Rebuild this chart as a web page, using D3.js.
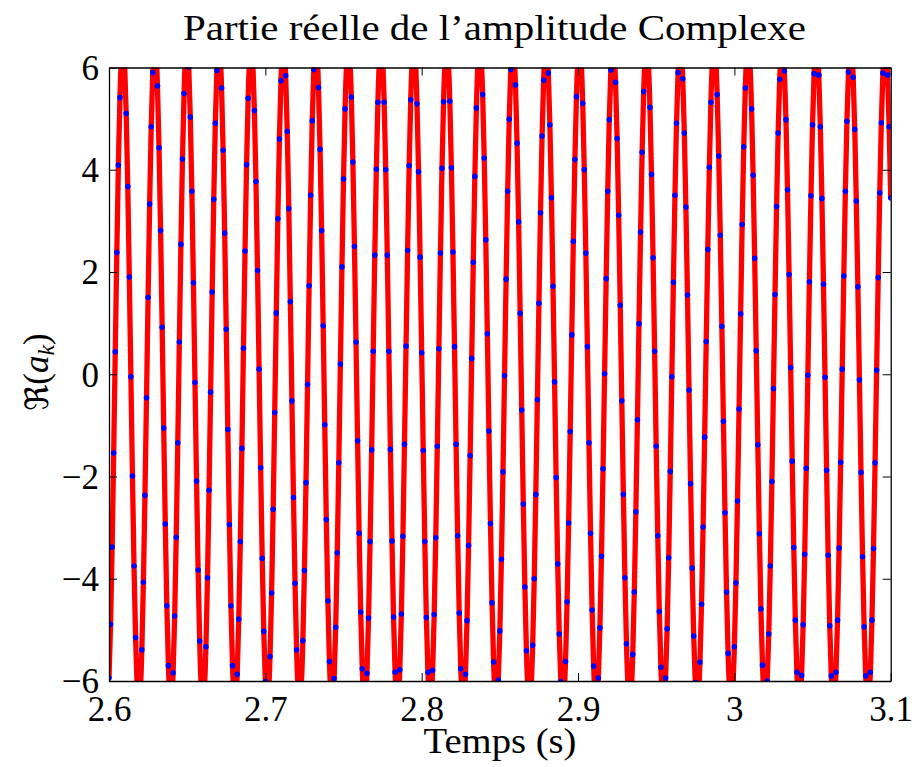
<!DOCTYPE html>
<html><head><meta charset="utf-8">
<script src="https://cdn.jsdelivr.net/npm/d3@7"></script>
<style>html,body{margin:0;padding:0;background:#fff}svg{display:block}
.serif{font-family:"Liberation Serif","Times New Roman",serif}</style>
</head><body>
<svg id="chart" width="915" height="767"></svg>
<script>
// ---- data ----
const sampleStart = 2.6;     // time of first sample (s)
const sampleStep = 0.001;    // sampling interval (s)
const realPart = [
-5.94,-4.89,-3.38,-1.54,0.44,2.38,4.09,5.41,6.23,
6.44,6.05,5.10,3.67,1.90,-0.05,-1.99,-3.75,-5.15,-6.08,-6.45,-6.21,-5.39,-4.07,-2.37,-0.46,1.50,3.33,4.84,5.90,6.41,
6.32,5.64,4.43,2.81,0.92,-1.05,-2.93,-4.53,-5.70,-6.35,-6.39,-5.84,-4.73,-3.19,-1.34,0.63,2.54,4.21,5.49,6.26,
6.44,6.01,5.03,3.58,1.79,-0.16,-2.09,-3.83,-5.22,-6.12,-6.45,-6.17,-5.33,-3.98,-2.27,-0.35,1.61,3.42,4.91,5.94,6.42,
6.30,5.60,4.38,2.76,0.88,-1.08,-2.94,-4.53,-5.70,-6.34,-6.40,-5.87,-4.79,-3.27,-1.45,0.51,2.41,4.10,5.40,6.21,
6.45,6.08,5.16,3.77,2.03,0.10,-1.83,-3.60,-5.03,-6.01,-6.43,-6.26,-5.52,-4.28,-2.64,-0.75,1.20,3.04,4.60,5.74,6.36,
6.38,5.84,4.75,3.24,1.42,-0.52,-2.41,-4.09,-5.39,-6.20,-6.45,-6.10,-5.21,-3.84,-2.12,-0.20,1.73,3.50,4.96,5.96,6.42,
6.30,5.61,4.40,2.81,0.95,-0.99,-2.84,-4.43,-5.62,-6.30,-6.42,-5.95,-4.95,-3.49,-1.73,0.20,2.10,3.82,5.19,6.09,6.45,
6.21,5.42,4.15,2.50,0.63,-1.30,-3.11,-4.65,-5.76,-6.36,-6.38,-5.85,-4.77,-3.27,-1.48,0.45,2.33,4.01,5.32,6.16,
6.45,6.15,5.32,4.00,2.33,0.45,-1.47,-3.26,-4.75,-5.83,-6.38,-6.37,-5.78,-4.69,-3.17,-1.37,0.55,2.42,4.08,5.37,6.18,
6.45,6.13,5.29,3.96,2.29,0.42,-1.49,-3.27,-4.76,-5.83,-6.38,-6.37,-5.79,-4.70,-3.20,-1.41,0.50,2.37,4.03,5.33,6.16,
6.45,6.16,5.34,4.04,2.39,0.54,-1.37,-3.16,-4.67,-5.76,-6.36,-6.39,-5.87,-4.82,-3.35,-1.59,0.31,2.19,3.87,5.21,6.09,6.45,
6.23,5.47,4.23,2.63,0.79,-1.11,-2.92,-4.47,-5.63,-6.30,-6.43,-5.98,-5.02,-3.62,-1.91,-0.03,1.86,3.58,4.99,5.96,6.42,
6.31,5.66,4.52,2.98,1.19,-0.70,-2.54,-4.16,-5.41,-6.20,-6.45,-6.14,-5.30,-4.00,-2.35,-0.50,1.39,3.16,4.66,5.75,6.35,
6.40,5.89,4.88,3.45,1.72,-0.15,-2.02,-3.71,-5.08,-6.01,-6.43,-6.29,-5.62,-4.45,-2.91,-1.12,0.77,2.60,4.20,5.43,6.21,
6.45,6.13,5.30,4.00,2.37,0.54,-1.34,-3.11,-4.61,-5.71,-6.33,-6.41,-5.94,-4.96,-3.56,-1.85,0.01,1.87,3.58,4.98,5.95,6.42,
6.33,5.71,4.61,3.11,1.35,-0.52,-2.35,-3.98,-5.27,-6.12,-6.45,-6.23,-5.48,-4.26,-2.69,-0.89,0.99,2.78,4.34,5.53,6.25,
6.44,6.09,5.22,3.91,2.28,0.45,-1.41,-3.16,-4.64,-5.73,-6.34,-6.41,-5.94,-4.98,-3.59,-1.90,-0.05,1.80,3.50,4.91,5.90,6.40,
6.36,5.78,4.72,3.27,1.55,-0.31,-2.14,-3.79,-5.12,-6.03,-6.43,-6.29,-5.63,-4.50,-2.99,-1.23,0.64,2.44,4.05,5.32,6.13,6.45,
6.22,5.47,4.27,2.72,0.94,-0.92,-2.71,-4.26,-5.46,-6.21,-6.45,-6.14,-5.33,-4.08,-2.48,-0.68,1.18,2.93,4.45,5.60,6.27,
6.44,6.07,5.19,3.89,2.27,0.46,-1.38,-3.12,-4.59,-5.69,-6.31,-6.43,-6.00,-5.08,-3.75,-2.10,-0.28,1.56,3.28,4.72,5.77,6.35,
6.40,5.93,4.98,3.61,1.95,0.13,-1.70,-3.39,-4.81,-5.83,-6.37,-6.39,-5.89,-4.90,-3.52,-1.84,-0.02,1.81,3.49,4.88,5.88,6.39,
6.38,5.85,4.84,3.44,1.76,-0.06,-1.88,-3.54,-4.92,-5.90,-6.39,-6.37,-5.83,-4.81,-3.40,-1.72,0.10,1.92,3.58,4.95,5.91,6.40,
6.36,5.81,4.79,3.39,1.71,-0.11,-1.92,-3.57,-4.94,-5.90,-6.39,-6.37,-5.83,-4.81,-3.41,-1.73,0.08,1.89,3.55,4.92,5.89,6.39,
6.37,5.85,4.84,3.45
];
const xDomain = [2.6, 3.1];
const yDomain = [-6, 6];
const xTickValues = [2.6, 2.7, 2.8, 2.9, 3.0, 3.1];
const xTickLabels = ["2.6", "2.7", "2.8", "2.9", "3", "3.1"];
const yTickValues = [-6, -4, -2, 0, 2, 4, 6];
const yTickLabels = ["\u22126", "\u22124", "\u22122", "0", "2", "4", "6"];
const titleText = "Partie r\u00e9elle de l\u2019amplitude Complexe";
const xLabelText = "Temps (s)";

// ---- layout ----
const plot = {left: 109, right: 890.7, top: 67.5, bottom: 681};

const svg = d3.select("#chart");
svg.append("rect").attr("width", 915).attr("height", 767).attr("fill", "#fff");

const x = d3.scaleLinear().domain(xDomain).range([plot.left, plot.right]);
const y = d3.scaleLinear().domain(yDomain).range([plot.bottom, plot.top]);

const data = realPart.map((v, i) => ({t: sampleStart + i * sampleStep, v}));

svg.append("defs").append("clipPath").attr("id", "clip")
  .append("rect")
  .attr("x", plot.left).attr("y", plot.top)
  .attr("width", plot.right - plot.left).attr("height", plot.bottom - plot.top);

const g = svg.append("g").attr("clip-path", "url(#clip)");

const line = d3.line().x(d => x(d.t)).y(d => y(d.v)).curve(d3.curveNatural);
g.append("path").datum(data)
  .attr("d", line)
  .attr("fill", "none")
  .attr("stroke", "#ff0000")
  .attr("stroke-width", 5.3)
  .attr("stroke-linejoin", "round");

g.selectAll("circle").data(data).join("circle")
  .attr("cx", d => x(d.t)).attr("cy", d => y(d.v))
  .attr("r", 2.8).attr("fill", "#0000ff");

// ---- axes (box with inward ticks on all sides) ----
const fmtX = (d, i) => xTickLabels[i];
const fmtY = (d, i) => yTickLabels[i];

const axB = svg.append("g").attr("transform", `translate(0,${plot.bottom})`)
  .call(d3.axisBottom(x).tickValues(xTickValues).tickFormat(fmtX)
        .tickSizeInner(-8).tickSizeOuter(0).tickPadding(15));
const axT = svg.append("g").attr("transform", `translate(0,${plot.top})`)
  .call(d3.axisTop(x).tickValues(xTickValues).tickFormat("")
        .tickSizeInner(-8).tickSizeOuter(0));
const axL = svg.append("g").attr("transform", `translate(${plot.left},0)`)
  .call(d3.axisLeft(y).tickValues(yTickValues).tickFormat(fmtY)
        .tickSizeInner(-8).tickSizeOuter(0).tickPadding(10));
const axR = svg.append("g").attr("transform", `translate(${plot.right},0)`)
  .call(d3.axisRight(y).tickValues(yTickValues).tickFormat("")
        .tickSizeInner(-8).tickSizeOuter(0));

[axB, axT, axL, axR].forEach(a => {
  a.attr("font-family", null).attr("font-size", null);
  a.select(".domain").attr("stroke", "#000").attr("stroke-width", 1.3);
  a.selectAll(".tick line").attr("stroke", "#000").attr("stroke-width", 1);
  a.selectAll("text").attr("class", "serif").style("font-size", "35px").attr("fill", "#000");
});
axL.selectAll("text").attr("dy", "0.34em");

// ---- titles ----
svg.append("text").attr("class", "serif")
  .attr("x", 494.5).attr("y", 40)
  .attr("text-anchor", "middle")
  .style("font-size", "35px")
  .attr("textLength", 623).attr("lengthAdjust", "spacingAndGlyphs")
  .text(titleText);

svg.append("text").attr("class", "serif")
  .attr("x", 500).attr("y", 753)
  .attr("text-anchor", "middle")
  .style("font-size", "35px")
  .attr("textLength", 153).attr("lengthAdjust", "spacingAndGlyphs")
  .text(xLabelText);

const yl = svg.append("text").attr("class", "serif")
  .attr("transform", "translate(48,372) rotate(-90)")
  .attr("text-anchor", "middle")
  .style("font-size", "35px");
yl.append("tspan").style("font-family", "'DejaVu Serif','DejaVu Sans',serif").style("font-size", "32px").text("\u211C");
yl.append("tspan").text("(");
yl.append("tspan").style("font-style", "italic").text("a");
yl.append("tspan").style("font-style", "italic").style("font-size", "24px").attr("dy", 6).text("k");
yl.append("tspan").attr("dy", -6).text(")");
</script>
</body></html>
